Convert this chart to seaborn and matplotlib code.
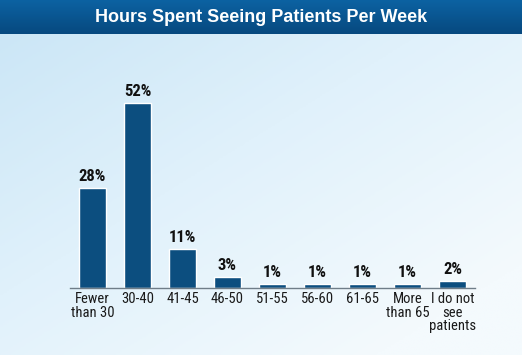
#!/usr/bin/env python3

import numpy as np
import seaborn as sns
import matplotlib.pyplot as plt
from matplotlib.colors import LinearSegmentedColormap

sns.set_theme(style="white")
plt.rcParams['font.family'] = ['Roboto Condensed', 'DejaVu Sans']

categories = ["Fewer\nthan 30", "30-40", "41-45", "46-50", "51-55", "56-60", "61-65",
              "More\nthan 65", "I do not\nsee\npatients"]
percents = [28, 52, 11, 3, 1, 1, 1, 1, 2]
title = "Hours Spent Seeing Patients Per Week"

fig = plt.figure(figsize=(5.22, 3.55), dpi=100)

# background gradient
bg = fig.add_axes([0, 0, 1, 1], zorder=0)
yy, xx = np.mgrid[0:1:200j, 0:1:300j]
t = np.clip(0.55 * xx + 0.6 * yy, 0, 1)
bg_cmap = LinearSegmentedColormap.from_list("bg", ["#c9e5f6", "#e0f1fb", "#f4fafd"])
bg.imshow(t, cmap=bg_cmap, aspect="auto", extent=[0, 1, 0, 1], origin="upper")
# title bar
bar_h = 34 / 355
tb = np.linspace(0, 1, 50).reshape(-1, 1)
tb_cmap = LinearSegmentedColormap.from_list("tb", ["#0c62a2", "#07497f"])
bg.imshow(tb, cmap=tb_cmap, aspect="auto", extent=[0, 1, 1 - bar_h, 1], origin="upper")
bg.set_xlim(0, 1)
bg.set_ylim(0, 1)
bg.axis("off")
fig.text(0.5, 1 - bar_h / 2, title, color="white", fontsize=13, fontweight="bold",
         ha="center", va="center", family=['Liberation Sans', 'DejaVu Sans'])

ax = fig.add_axes([70 / 522, 67 / 355, 405 / 522, 248 / 355], zorder=1)
ax.patch.set_alpha(0)
sns.barplot(x=categories, y=percents, color="#0c4e7f", width=0.6, saturation=1, ax=ax)
for i, v in enumerate(percents):
    ax.text(i, v + 1.2, f"{v}%", ha="center", va="bottom", fontsize=12,
            fontweight="bold", color="#111111")

ax.set_xlim(-0.5, 8.5)
ax.set_ylim(0, 69.7)
ax.set_yticks([])
ax.set_ylabel("")
for s in ["top", "right", "left"]:
    ax.spines[s].set_visible(False)
ax.spines["bottom"].set_color("#6f7d88")
ax.spines["bottom"].set_linewidth(1)
ax.tick_params(axis="x", length=0, pad=3, labelsize=10.5, labelcolor="#1a1a1a")
for lbl in ax.get_xticklabels():
    lbl.set_linespacing(0.95)

fig.savefig("out.png", dpi=100)
